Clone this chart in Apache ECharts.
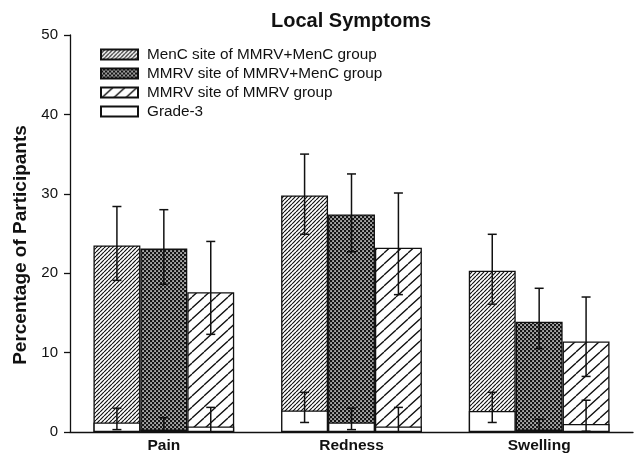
<!DOCTYPE html>
<html>
<head>
<meta charset="utf-8">
<script src="https://cdn.jsdelivr.net/npm/echarts@6/dist/echarts.min.js"></script>
<style>html,body{margin:0;padding:0;background:#fff}#c{width:635px;height:456px}</style>
</head>
<body>
<div id="c"></div>
<script>
const categories = ['Pain', 'Redness', 'Swelling'];
const seriesNames = ['MenC site of MMRV+MenC group', 'MMRV site of MMRV+MenC group', 'MMRV site of MMRV group'];
const gradeName = 'Grade-3';
const yTicks = [0, 10, 20, 30, 40, 50];

const mencValues = [23.5, 29.8, 20.3];
const mencErr = [[19.1, 28.4], [24.9, 35.0], [16.1, 24.9]];
const mmrvCoValues = [23.1, 27.4, 13.9];
const mmrvCoErr = [[18.6, 28.0], [22.7, 32.5], [10.5, 18.1]];
const mmrvValues = [17.6, 23.2, 11.4];
const mmrvErr = [[12.3, 24.0], [17.3, 30.1], [7.0, 17.0]];

const g3Menc = [1.2, 2.7, 2.65];
const g3MencErr = [[0.3, 3.0], [1.2, 5.0], [1.2, 5.0]];
const g3MmrvCo = [0.3, 1.2, 0.3];
const g3MmrvCoErr = [[0.1, 1.8], [0.3, 3.0], [0.15, 1.6]];
const g3Mmrv = [0.7, 0.7, 1.0];
const g3MmrvErr = [[0, 3.1], [0, 3.1], [0.1, 4.0]];

function makeTile(w, h, draw) {
  const cv = document.createElement('canvas');
  cv.width = w; cv.height = h;
  const ctx = cv.getContext('2d');
  draw(ctx, w, h);
  return { image: cv, repeat: 'repeat' };
}
function diag(ctx, w, h, lw) {
  ctx.fillStyle = '#fff'; ctx.fillRect(0, 0, w, h);
  ctx.strokeStyle = '#111'; ctx.lineWidth = lw;
  ctx.beginPath();
  for (let k = -1; k <= 1; k++) {
    ctx.moveTo(k * w, h); ctx.lineTo(k * w + w, 0);
  }
  ctx.stroke();
}
const pat1 = makeTile(4, 4, (c, w, h) => diag(c, w, h, 1.2));
const pat3 = makeTile(12, 11, (c, w, h) => diag(c, w, h, 1.3));
const pat2 = makeTile(4, 4, (c, w, h) => {
  c.fillStyle = '#151515'; c.fillRect(0, 0, w, h);
  c.fillStyle = '#fff';
  c.fillRect(0.3, 0.3, 1.5, 1.5);
  c.fillRect(2.3, 2.3, 1.5, 1.5);
});

const CAT_GAP = 0.25;
function errRender(idx) {
  return function (params, api) {
    const c = api.value(0);
    const lo = api.coord([c, api.value(1)]);
    const hi = api.coord([c, api.value(2)]);
    const band = api.size([1, 0])[0];
    const bw = band * (1 - CAT_GAP) / 3;
    const x = lo[0] + (idx - 1) * bw;
    const hw = 4.5;
    const st = { stroke: '#111', lineWidth: 1.5 };
    return {
      type: 'group',
      children: [
        { type: 'line', shape: { x1: x, y1: hi[1], x2: x, y2: lo[1] }, style: st },
        { type: 'line', shape: { x1: x - hw, y1: hi[1], x2: x + hw, y2: hi[1] }, style: st },
        { type: 'line', shape: { x1: x - hw, y1: lo[1], x2: x + hw, y2: lo[1] }, style: st }
      ]
    };
  };
}
function errSeries(arr, idx, axisIdx) {
  return {
    type: 'custom', xAxisIndex: axisIdx, z: 10, silent: true,
    renderItem: errRender(idx),
    encode: { x: 0, y: [1, 2] },
    data: arr.map((e, i) => [i, e[0], e[1]])
  };
}
const barBase = { type: 'bar', barGap: '0%', barCategoryGap: '25%', silent: true };
const border = { borderColor: '#111', borderWidth: 1.3 };

const chart = echarts.init(document.getElementById('c'), null, { renderer: 'canvas' });
chart.setOption({
  animation: false,
  backgroundColor: '#fff',
  textStyle: { fontFamily: 'Liberation Sans, Arial, sans-serif' },
  title: {
    text: 'Local Symptoms', left: 266, top: 6,
    textStyle: { fontSize: 20, fontWeight: 'bold', color: '#111', fontFamily: 'Liberation Sans, Arial, sans-serif' }
  },
  legend: {
    orient: 'vertical', left: 95, top: 42,
    itemWidth: 37, itemHeight: 10, itemGap: 4, icon: 'rect',
    textStyle: { fontSize: 15.3, color: '#111', padding: [0, 0, 0, 4], fontFamily: 'Liberation Sans, Arial, sans-serif' },
    data: [seriesNames[0], seriesNames[1], seriesNames[2], gradeName]
  },
  grid: { left: 70, top: 35, right: 2, bottom: 24, containLabel: false },
  xAxis: [
    {
      type: 'category', data: categories,
      axisLine: { lineStyle: { color: '#111', width: 1.3 } },
      axisTick: { show: false },
      axisLabel: { fontSize: 15.5, fontWeight: 'bold', color: '#111', margin: 6 }
    },
    { type: 'category', data: categories, show: false }
  ],
  yAxis: {
    type: 'value', min: 0, max: 50, interval: 10,
    axisLine: { show: true, lineStyle: { color: '#111', width: 1.3 } },
    axisTick: { show: true, length: 6, lineStyle: { color: '#111', width: 1.3 } },
    axisLabel: { fontSize: 15, color: '#111', margin: 12, formatter: v => yTicks.includes(v) ? String(v) : '' },
    splitLine: { show: false }
  },
  graphic: [{
    type: 'text', x: 21, y: 245, rotation: Math.PI / 2,
    style: {
      text: 'Percentage of Participants', textAlign: 'center', textVerticalAlign: 'middle',
      font: 'bold 19px "Liberation Sans", Arial, sans-serif', fill: '#111'
    }
  }],
  series: [
    Object.assign({}, barBase, { name: seriesNames[0], xAxisIndex: 0, z: 2, data: mencValues, itemStyle: Object.assign({ color: pat1 }, border) }),
    Object.assign({}, barBase, { name: seriesNames[1], xAxisIndex: 0, z: 2, data: mmrvCoValues, itemStyle: Object.assign({ color: pat2 }, border) }),
    Object.assign({}, barBase, { name: seriesNames[2], xAxisIndex: 0, z: 2, data: mmrvValues, itemStyle: Object.assign({ color: pat3 }, border) }),
    Object.assign({}, barBase, { name: gradeName, xAxisIndex: 1, z: 3, data: g3Menc, itemStyle: Object.assign({ color: '#fff' }, border) }),
    Object.assign({}, barBase, { name: gradeName, xAxisIndex: 1, z: 3, data: g3MmrvCo, itemStyle: Object.assign({ color: '#fff' }, border) }),
    Object.assign({}, barBase, { name: gradeName, xAxisIndex: 1, z: 3, data: g3Mmrv, itemStyle: Object.assign({ color: '#fff' }, border) }),
    errSeries(mencErr, 0, 0),
    errSeries(mmrvCoErr, 1, 0),
    errSeries(mmrvErr, 2, 0),
    errSeries(g3MencErr, 0, 1),
    errSeries(g3MmrvCoErr, 1, 1),
    errSeries(g3MmrvErr, 2, 1)
  ]
});
</script>
</body>
</html>
